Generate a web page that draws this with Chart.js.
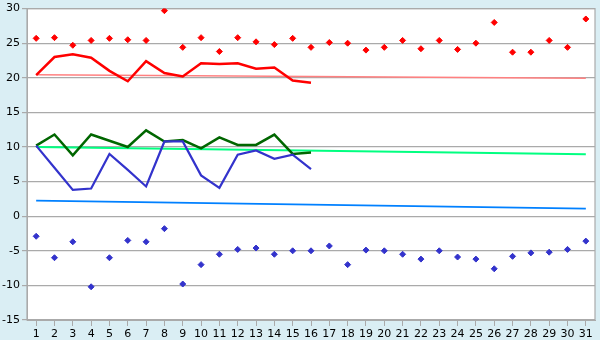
<!DOCTYPE html>
<html>
<head>
<meta charset="utf-8">
<script src="https://cdn.jsdelivr.net/npm/chart.js@4/dist/chart.umd.min.js"></script>
<style>
  html, body { margin: 0; padding: 0; background: #daeef4; }
  #wrap { width: 600px; height: 340px; }
</style>
</head>
<body>
<div id="wrap"><canvas id="chart" width="600" height="340"></canvas></div>
<script>
const days = ['1','2','3','4','5','6','7','8','9','10','11','12','13','14','15','16',
    '17','18','19','20','21','22','23','24','25','26','27','28','29','30','31'];

// daily points
const maxPoints = [25.7, 25.8, 24.7, 25.4, 25.7, 25.5, 25.4, 29.7, 24.4, 25.8, 23.8, 25.8, 25.2, 24.8, 25.7, 24.4,
    25.1, 25.0, 24.0, 24.4, 25.4, 24.2, 25.4, 24.1, 25.0, 28.0, 23.7, 23.7, 25.4, 24.4, 28.5];
const minPoints = [-2.9, -6.0, -3.7, -10.2, -6.0, -3.5, -3.7, -1.8, -9.8, -7.0, -5.5, -4.8, -4.6, -5.5, -5.0, -5.0,
    -4.3, -7.0, -4.9, -5.0, -5.5, -6.2, -5.0, -5.9, -6.2, -7.6, -5.8, -5.3, -5.2, -4.8, -3.6];

// lines for the first half of the month
const maxLine = [20.4, 23.0, 23.4, 22.9, 21.0, 19.5, 22.4, 20.7, 20.2, 22.1, 22.0, 22.1, 21.3, 21.5, 19.6, 19.3];
const meanLine = [10.2, 11.8, 8.8, 11.8, 10.9, 10.0, 12.4, 10.8, 11.0, 9.8, 11.4, 10.3, 10.3, 11.8, 9.0, 9.2];
const minLine = [10.2, 7.0, 3.8, 4.0, 9.0, 6.7, 4.3, 10.8, 10.8, 5.9, 4.1, 8.9, 9.5, 8.3, 8.9, 6.8];

// trend lines: value at day 1 and day 31
const maxTrend = [20.45, 19.95];
const meanTrend = [10.0, 8.95];
const minTrend = [2.25, 1.1];

const yTicks = { min: -15, max: 30, step: 5 };

function trendData(ends) {
    const last = days.length - 1;
    return days.map((_, i) => i === 0 ? ends[0] : (i === last ? ends[1] : null));
}

const plotBg = {
    id: 'plotBg',
    beforeDraw(chart) {
        const { ctx, chartArea: a } = chart;
        ctx.save();
        ctx.fillStyle = '#daeef4';
        ctx.fillRect(0, 0, chart.width, chart.height);
        ctx.fillStyle = '#ffffff';
        ctx.fillRect(a.left, a.top, a.right - a.left, a.bottom - a.top);
        ctx.restore();
    },
    beforeDatasetsDraw(chart) {
        const { ctx, chartArea: a } = chart;
        ctx.save();
        ctx.strokeStyle = '#aaaaaa';
        ctx.lineWidth = 1.2;
        ctx.strokeRect(a.left, a.top, a.right - a.left, a.bottom - a.top);
        ctx.restore();
    }
};

const lineDs = (data, color, width, order) => ({
    data, borderColor: color, borderWidth: width, pointRadius: 0,
    tension: 0, fill: false, order
});
const trendDs = (ends, color, width) => ({
    data: trendData(ends), borderColor: color, borderWidth: width, pointRadius: 0,
    spanGaps: true, tension: 0, fill: false, order: 10
});
const pointDs = (data, color) => ({
    data, showLine: false, pointStyle: 'rectRot', pointRadius: 3,
    pointBackgroundColor: color, pointBorderColor: color, pointBorderWidth: 1, order: 1
});

new Chart(document.getElementById('chart'), {
    type: 'line',
    data: {
        labels: days,
        datasets: [
            trendDs(maxTrend, '#ff8080', 1.5),
            trendDs(meanTrend, '#00ff80', 1.8),
            trendDs(minTrend, '#0080ff', 1.8),
            lineDs(maxLine, '#ff0000', 2.5, 3),
            lineDs(meanLine, '#006600', 2.5, 4),
            lineDs(minLine, '#3333cc', 2.2, 2),
            pointDs(maxPoints, '#ff0000'),
            pointDs(minPoints, '#3333cc')
        ]
    },
    options: {
        responsive: false,
        animation: false,
        layout: { padding: { top: 5, right: 5, left: 0, bottom: 0 } },
        plugins: { legend: { display: false }, tooltip: { enabled: false } },
        scales: {
            x: {
                offset: true,
                grid: { drawOnChartArea: false, tickLength: 6, color: '#aaaaaa' },
                border: { color: '#aaaaaa' },
                ticks: {
                    color: '#000', padding: 2, maxRotation: 0, autoSkip: false,
                    font: { family: 'DejaVu Sans', size: 11 }
                },
                afterFit(scale) { scale.height = 20; }
            },
            y: {
                min: yTicks.min, max: yTicks.max,
                grid: { color: '#aaaaaa', tickLength: 5, lineWidth: 1.2 },
                border: { color: '#aaaaaa' },
                ticks: {
                    stepSize: yTicks.step, color: '#000', padding: 2,
                    font: { family: 'DejaVu Sans', size: 11 }
                },
                afterFit(scale) { scale.width = 27; }
            }
        }
    },
    plugins: [plotBg]
});
</script>
</body>
</html>
